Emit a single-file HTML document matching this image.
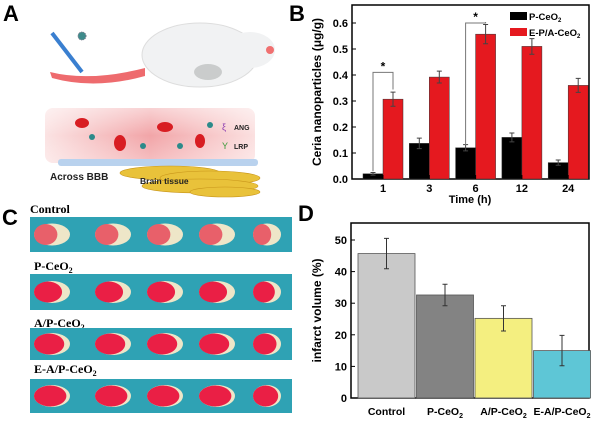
<!DOCTYPE html>
<html><head><meta charset="utf-8"><style>
body{margin:0;background:#fff;width:600px;height:423px;overflow:hidden}
svg{display:block;font-family:"Liberation Sans",Arial,sans-serif}
</style></head><body>
<svg width="600" height="423" viewBox="0 0 600 423">
<defs>
<linearGradient id="vg" x1="0" y1="0" x2="1" y2="0"><stop offset="0" stop-color="#fbe3e3"/><stop offset="0.5" stop-color="#f2a5a8"/><stop offset="1" stop-color="#fbe0e0"/></linearGradient>
<linearGradient id="vg2" x1="0" y1="0" x2="0" y2="1"><stop offset="0" stop-color="#fff" stop-opacity="0.5"/><stop offset="0.5" stop-color="#fff" stop-opacity="0"/><stop offset="1" stop-color="#fff" stop-opacity="0.3"/></linearGradient>
</defs>

<!-- Panel A -->
<g>
<text x="3" y="21" font-size="22" font-weight="bold">A</text>
<line x1="52" y1="33" x2="82" y2="72" stroke="#3a7fd0" stroke-width="4"/>
<path d="M50 72 Q90 82 145 68 L145 76 Q95 90 52 78 Z" fill="#ee6b6e"/>
<ellipse cx="200" cy="55" rx="58" ry="32" fill="#f1f2f3" stroke="#ddd"/>
<ellipse cx="250" cy="50" rx="25" ry="18" fill="#f1f2f3"/>
<ellipse cx="208" cy="72" rx="14" ry="8" fill="#b9bcbb" opacity="0.7"/>
<circle cx="270" cy="50" r="4" fill="#f07070"/>
<circle cx="82" cy="36" r="4" fill="#3e8b8b" stroke="#778" stroke-dasharray="1 1"/>
<rect x="45" y="108" width="210" height="55" rx="8" fill="url(#vg)"/>
<rect x="45" y="108" width="210" height="55" rx="8" fill="url(#vg2)"/>
<ellipse cx="82" cy="123" rx="7" ry="5" fill="#d81d22"/><ellipse cx="120" cy="143" rx="6" ry="8" fill="#d81d22"/>
<ellipse cx="165" cy="127" rx="8" ry="5" fill="#d81d22"/><ellipse cx="200" cy="141" rx="5" ry="7" fill="#d81d22"/>
<circle cx="92" cy="137" r="3" fill="#2c8a8a"/><circle cx="143" cy="146" r="3" fill="#2c8a8a"/><circle cx="180" cy="146" r="3" fill="#2c8a8a"/><circle cx="210" cy="125" r="3" fill="#2c8a8a"/>
<rect x="58" y="159" width="200" height="7" rx="3" fill="#b9d2ee"/>
<g fill="#e9c23a" stroke="#c8951a" stroke-width="0.6">
<ellipse cx="170" cy="173" rx="50" ry="7"/><ellipse cx="210" cy="178" rx="50" ry="7"/><ellipse cx="200" cy="186" rx="58" ry="7"/><ellipse cx="225" cy="192" rx="35" ry="5"/></g>
<text x="50" y="180" font-size="10" font-weight="bold" fill="#222">Across BBB</text>
<text x="140" y="184" font-size="8.5" font-weight="bold" fill="#222">Brain tissue</text>
<text x="234" y="130" font-size="7" font-weight="bold" fill="#222">ANG</text>
<text x="234" y="149" font-size="7" font-weight="bold" fill="#222">LRP</text>
<text x="222" y="130" font-size="9" fill="#8a3ab0">ξ</text>
<text x="222" y="149" font-size="9" fill="#3a9a3a">Y</text>
</g>

<!-- Panel C -->
<g font-family="Liberation Serif,serif">
<text x="2" y="225" font-size="22" font-weight="bold" font-family="Liberation Sans,sans-serif">C</text>
<text x="30" y="213" font-size="12" font-weight="bold">Control</text>
<text x="34" y="270" font-size="12" font-weight="bold">P-CeO<tspan font-size="8" dy="3">2</tspan></text>
<text x="34" y="327" font-size="12" font-weight="bold">A/P-CeO<tspan font-size="8" dy="3">2</tspan></text>
<text x="34" y="373" font-size="12" font-weight="bold">E-A/P-CeO<tspan font-size="8" dy="3">2</tspan></text>
<g id="strips"></g>
</g>

<!-- Panel B -->
<g id="pb">
<text x="289" y="21" font-size="22" font-weight="bold">B</text>
</g>
<!-- Panel D -->
<g id="pd">
<text x="298" y="221" font-size="22" font-weight="bold">D</text>
</g>
</svg>
<script>
const NS="http://www.w3.org/2000/svg";
function mk(p,t,a,txt){const e=document.createElementNS(NS,t);for(const k in a)e.setAttribute(k,a[k]);if(txt!==undefined)e.textContent=txt;p.appendChild(e);return e;}

// Panel C strips
const strips=document.getElementById('strips');
const stripY=[217,274,328,379],stripH=[35,36,32,34];
const sliceX=[52,113,165,217,267];
const redFrac=[0.65,0.78,0.84,0.9];
stripY.forEach((y,i)=>{
 const r=mk(strips,'rect',{x:30,y:y,width:262,height:stripH[i],fill:'#2fa2b4'});
 
 
 sliceX.forEach((cx,j)=>{
  const cy=y+stripH[i]/2, rx=j==4?14:18, ry=11;
  mk(strips,'ellipse',{cx:cx,cy:cy,rx:rx,ry:ry,fill:'#eee6c8'});
  const s=mk(strips,'ellipse',{cx:cx-rx*(1-redFrac[i]),cy:cy,rx:rx*redFrac[i],ry:ry*0.95,fill:i==0?'#e8606a':'#ea1f45'});
  
  
 });
});

// Panel B data
const timeCats=['1','3','6','12','24'];
const pCeO2=[0.02,0.137,0.12,0.16,0.063];
const pCeO2Err=[0.005,0.02,0.012,0.017,0.01];
const epaCeO2=[0.307,0.392,0.557,0.51,0.36];
const epaCeO2Err=[0.027,0.023,0.037,0.03,0.027];
const bTicks=[0,0.1,0.2,0.3,0.4,0.5,0.6];

const pb=document.getElementById('pb');
const bx0=352,bx1=589,by0=179,byTop=5;
const byS=v=>by0-v*260;
const bxS=i=>383+i*46.3;
let f=mk(pb,'rect',{x:bx0,y:byTop,width:bx1-bx0,height:by0-byTop,fill:'none',stroke:'#000','stroke-width':1.5});


bTicks.forEach(v=>{
 mk(pb,'line',{x1:bx0,x2:bx0+4,y1:byS(v),y2:byS(v),stroke:'#000'});
 const t=mk(pb,'text',{x:bx0-4,y:byS(v)+4,'font-size':11,'font-weight':'bold','text-anchor':'end'},v.toFixed(1));
 
 
});
timeCats.forEach((c,i)=>{
 const cx=bxS(i),bw=20;
 [[pCeO2,pCeO2Err,'#000',cx-bw],[epaCeO2,epaCeO2Err,'#e5191f',cx]].forEach(([vals,errs,col,x],k)=>{
  const b=mk(pb,'rect',{x:x,y:byS(vals[i]),width:bw,height:by0-byS(vals[i]),fill:col,stroke:'#333','stroke-width':0.5});
  
  
  const ex=x+bw/2,t=byS(vals[i]+errs[i]),bo=byS(vals[i]-errs[i]);
  mk(pb,'path',{d:`M${ex} ${t}V${bo}M${ex-2.5} ${t}H${ex+2.5}M${ex-2.5} ${bo}H${ex+2.5}`,stroke:'#444','stroke-width':1,fill:'none'});
 });
 mk(pb,'line',{x1:cx,x2:cx,y1:by0,y2:by0-4,stroke:'#000'});
 const t=mk(pb,'text',{x:cx,y:by0+13,'font-size':11,'font-weight':'bold','text-anchor':'middle'},c);
 
 
});
// significance brackets
[[0,0.41],[2,0.6]].forEach(([i,v])=>{
 const a=bxS(i)-10,b=bxS(i)+10,y=byS(v);
 mk(pb,'path',{d:`M${a} ${byS(i==0?0.03:0.13)}V${y}H${b}V${byS(epaCeO2[i]+epaCeO2Err[i]+0.01)}`,stroke:'#777',fill:'none'});
 mk(pb,'text',{x:(a+b)/2,y:y-2,'font-size':12,'font-weight':'bold','text-anchor':'middle'},'*');
});
let yl=mk(pb,'text',{x:0,y:0,'font-size':12,'font-weight':'bold','text-anchor':'middle',transform:`translate(321 ${(by0+byTop)/2}) rotate(-90)`},'Ceria nanoparticles (μg/g)');


let xl=mk(pb,'text',{x:470,y:203,'font-size':11,'font-weight':'bold','text-anchor':'middle'},'Time (h)');


[['P-CeO','#000',12],['E-P/A-CeO','#e5191f',28]].forEach(([s,c,y])=>{
 const r=mk(pb,'rect',{x:510,y:y,width:17,height:8,fill:c});
 
 
 const t=mk(pb,'text',{x:529,y:y+8,'font-size':9.5,'font-weight':'bold'},s);
 
 
 mk(t,'tspan',{'font-size':6,dy:2},'2');
});

// Panel D data
const groups=['Control','P-CeO','A/P-CeO','E-A/P-CeO'];
const groupSub=['','2','2','2'];
const infarct=[45.7,32.6,25.2,15.0];
const infarctErr=[4.8,3.4,4.0,4.8];
const dTicks=[0,10,20,30,40,50];
const dColors=['#c9c9c9','#838383','#f4ef80','#5ec6d6'];

const pd=document.getElementById('pd');
const dx0=351,dx1=589,dy0=398,dyTop=223;
const dyS=v=>dy0-v*3.16;
const dxS=i=>358+i*58.5;
f=mk(pd,'rect',{x:dx0,y:dyTop,width:dx1-dx0,height:dy0-dyTop,fill:'none',stroke:'#000','stroke-width':1.5});


dTicks.forEach(v=>{
 mk(pd,'line',{x1:dx0,x2:dx0+4,y1:dyS(v),y2:dyS(v),stroke:'#000'});
 const t=mk(pd,'text',{x:dx0-4,y:dyS(v)+4,'font-size':11,'font-weight':'bold','text-anchor':'end'},v);
 
 
});
groups.forEach((g,i)=>{
 const x=dxS(i),w=57;
 const b=mk(pd,'rect',{x:x,y:dyS(infarct[i]),width:w,height:dy0-dyS(infarct[i]),fill:dColors[i],stroke:'#555','stroke-width':0.8});
 
 
 const ex=x+w/2,t=dyS(infarct[i]+infarctErr[i]),bo=dyS(infarct[i]-infarctErr[i]);
 mk(pd,'path',{d:`M${ex} ${t}V${bo}M${ex-2.5} ${t}H${ex+2.5}M${ex-2.5} ${bo}H${ex+2.5}`,stroke:'#333',fill:'none'});
 const lab=mk(pd,'text',{x:ex,y:415,'font-size':10.5,'font-weight':'bold','text-anchor':'middle'},g);
 
 
 if(groupSub[i])mk(lab,'tspan',{'font-size':7,dy:3},groupSub[i]);
});
yl=mk(pd,'text',{x:0,y:0,'font-size':12,'font-weight':'bold','text-anchor':'middle',transform:`translate(321 ${(dy0+dyTop)/2}) rotate(-90)`},'infarct volume (%)');


</script>
</body></html>
